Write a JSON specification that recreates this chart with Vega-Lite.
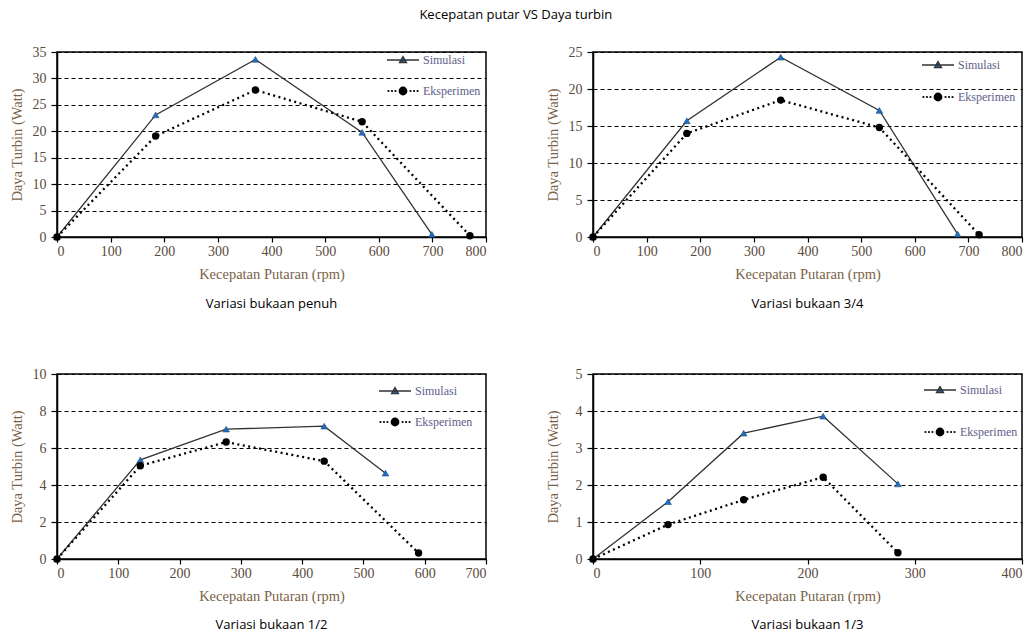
{
  "$schema": "https://vega.github.io/schema/vega-lite/v6.json",
  "padding": {"left": 8, "top": 9, "right": 5, "bottom": 5},
  "background": "white",
  "title": {"text": "Kecepatan putar VS Daya turbin", "anchor": "middle", "offset": 22, "font": "Open Sans", "fontSize": 13, "fontWeight": "normal", "color": "#000000"},
  "config": {
    "view": {"stroke": "#000000", "strokeWidth": 1.5},
    "title": {"font": "Open Sans", "fontSize": 13, "fontWeight": "normal", "color": "#000000"},
    "axis": {"labelFont": "Liberation Serif", "labelFontSize": 14, "labelColor": "#5a4a3c", "titleFont": "Liberation Serif", "titleFontSize": 14.5, "titleFontWeight": "normal", "titleColor": "#7a6248", "domainColor": "#000000", "domainWidth": 1.5, "tickColor": "#000000", "tickWidth": 1.2, "grid": false},
    "axisX": {"tickSize": 5, "labelPadding": 2, "titlePadding": 9},
    "axisY": {"grid": true, "gridColor": "#000000", "gridDash": [4, 3], "gridWidth": 1, "tickSize": 6, "labelPadding": 5, "titleX": -33},
    "legend": {"padding": 0, "labelFont": "Liberation Serif", "labelFontSize": 12, "labelColor": "#60608a", "labelOffset": 14, "symbolSize": 100, "symbolOpacity": 1, "symbolStrokeWidth": 1.3, "title": null}
  },
  "datasets": {
    "penuh": [
      {"rpm": 0, "daya": 0, "seri": "Simulasi"},
      {"rpm": 184, "daya": 23.1, "seri": "Simulasi"},
      {"rpm": 370, "daya": 33.6, "seri": "Simulasi"},
      {"rpm": 569, "daya": 19.8, "seri": "Simulasi"},
      {"rpm": 699, "daya": 0.5, "seri": "Simulasi"},
      {"rpm": 0, "daya": 0, "seri": "Eksperimen"},
      {"rpm": 184, "daya": 19.1, "seri": "Eksperimen"},
      {"rpm": 370, "daya": 27.8, "seri": "Eksperimen"},
      {"rpm": 569, "daya": 21.8, "seri": "Eksperimen"},
      {"rpm": 770, "daya": 0.25, "seri": "Eksperimen"}
    ],
    "tigaperempat": [
      {"rpm": 0, "daya": 0, "seri": "Simulasi"},
      {"rpm": 175, "daya": 15.7, "seri": "Simulasi"},
      {"rpm": 350, "daya": 24.3, "seri": "Simulasi"},
      {"rpm": 534, "daya": 17.1, "seri": "Simulasi"},
      {"rpm": 680, "daya": 0.4, "seri": "Simulasi"},
      {"rpm": 0, "daya": 0, "seri": "Eksperimen"},
      {"rpm": 175, "daya": 14.0, "seri": "Eksperimen"},
      {"rpm": 350, "daya": 18.5, "seri": "Eksperimen"},
      {"rpm": 534, "daya": 14.8, "seri": "Eksperimen"},
      {"rpm": 720, "daya": 0.3, "seri": "Eksperimen"}
    ],
    "setengah": [
      {"rpm": 0, "daya": 0, "seri": "Simulasi"},
      {"rpm": 136, "daya": 5.36, "seri": "Simulasi"},
      {"rpm": 276, "daya": 7.02, "seri": "Simulasi"},
      {"rpm": 436, "daya": 7.18, "seri": "Simulasi"},
      {"rpm": 536, "daya": 4.64, "seri": "Simulasi"},
      {"rpm": 0, "daya": 0, "seri": "Eksperimen"},
      {"rpm": 136, "daya": 5.04, "seri": "Eksperimen"},
      {"rpm": 276, "daya": 6.32, "seri": "Eksperimen"},
      {"rpm": 436, "daya": 5.29, "seri": "Eksperimen"},
      {"rpm": 590, "daya": 0.32, "seri": "Eksperimen"}
    ],
    "sepertiga": [
      {"rpm": 0, "daya": 0, "seri": "Simulasi"},
      {"rpm": 70, "daya": 1.55, "seri": "Simulasi"},
      {"rpm": 140.5, "daya": 3.4, "seri": "Simulasi"},
      {"rpm": 214.6, "daya": 3.86, "seri": "Simulasi"},
      {"rpm": 284.3, "daya": 2.03, "seri": "Simulasi"},
      {"rpm": 0, "daya": 0, "seri": "Eksperimen"},
      {"rpm": 70, "daya": 0.93, "seri": "Eksperimen"},
      {"rpm": 140.5, "daya": 1.6, "seri": "Eksperimen"},
      {"rpm": 214.6, "daya": 2.21, "seri": "Eksperimen"},
      {"rpm": 284.3, "daya": 0.17, "seri": "Eksperimen"}
    ]
  },
  "columns": 2,
  "spacing": {"row": 137, "column": 107},
  "bounds": "flush",
  "resolve": {"scale": {"shape": "independent", "color": "independent", "stroke": "independent", "x": "independent", "y": "independent"}, "legend": {"shape": "independent", "color": "independent", "stroke": "independent"}},
  "concat": [
    {
      "data": {"name": "penuh"},
      "width": 429, "height": 185,
      "title": {"text": "Variasi bukaan penuh", "orient": "bottom", "anchor": "middle", "frame": "group", "offset": 17},
      "encoding": {
        "x": {"field": "rpm", "type": "quantitative", "scale": {"domain": [0, 800], "nice": false}, "axis": {"values": [0, 100, 200, 300, 400, 500, 600, 700, 800], "title": "Kecepatan Putaran (rpm)"}},
        "y": {"field": "daya", "type": "quantitative", "scale": {"domain": [0, 35], "nice": false}, "axis": {"values": [0, 5, 10, 15, 20, 25, 30, 35], "title": "Daya Turbin (Watt)"}}
      },
      "layer": [
        {"transform": [{"filter": "datum.seri === 'Simulasi'"}], "mark": {"type": "line", "stroke": "#333333", "strokeWidth": 1.3}},
        {"transform": [{"filter": "datum.seri === 'Eksperimen'"}], "mark": {"type": "line", "stroke": "#000000", "strokeWidth": 2.3, "strokeDash": [2, 3.5]}},
        {"transform": [{"filter": "datum.seri === 'Simulasi'"}], "mark": {"type": "point", "shape": "triangle-up", "filled": true, "size": 45, "opacity": 1, "fill": "#1f6fc0", "stroke": "#1a3f6a", "strokeWidth": 0.5}},
        {"transform": [{"filter": "datum.seri === 'Eksperimen'"}], "mark": {"type": "point", "shape": "circle", "filled": true, "size": 55, "opacity": 1, "fill": "#000000"}},
        {"mark": {"type": "point", "filled": true, "size": 10, "opacity": 0, "strokeWidth": 1.3},
         "encoding": {
           "color": {"field": "seri", "type": "nominal", "scale": {"domain": ["Simulasi", "Eksperimen"], "range": ["#1f6fc0", "#000000"]},
             "legend": {"orient": "none", "legendX": 340, "legendY": 2, "rowPadding": 18}},
           "stroke": {"field": "seri", "type": "nominal", "scale": {"domain": ["Simulasi", "Eksperimen"], "range": ["#333333", "#000000"]},
             "legend": {"orient": "none", "legendX": 340, "legendY": 2, "rowPadding": 18}},
           "shape": {"field": "seri", "type": "nominal", "scale": {"domain": ["Simulasi", "Eksperimen"], "range": ["M-3.2,0L3.2,0M0,-0.7L0.7,0.5L-0.7,0.5Z", "M-2.82,0A0.09,0.09,0,1,1,-3.0,0A0.09,0.09,0,1,1,-2.82,0ZM-2.12,0A0.09,0.09,0,1,1,-2.3,0A0.09,0.09,0,1,1,-2.12,0ZM-1.42,0A0.09,0.09,0,1,1,-1.6,0A0.09,0.09,0,1,1,-1.42,0ZM1.6,0A0.09,0.09,0,1,1,1.42,0A0.09,0.09,0,1,1,1.6,0ZM2.3,0A0.09,0.09,0,1,1,2.12,0A0.09,0.09,0,1,1,2.3,0ZM3.0,0A0.09,0.09,0,1,1,2.82,0A0.09,0.09,0,1,1,3.0,0ZM0.75,0A0.75,0.75,0,1,1,-0.75,0A0.75,0.75,0,1,1,0.75,0Z"]},
             "legend": {"orient": "none", "legendX": 340, "legendY": 2, "rowPadding": 18}}
         }}
      ]
    },
    {
      "data": {"name": "tigaperempat"},
      "width": 429, "height": 185,
      "title": {"text": "Variasi bukaan 3/4", "orient": "bottom", "anchor": "middle", "frame": "group", "offset": 17},
      "encoding": {
        "x": {"field": "rpm", "type": "quantitative", "scale": {"domain": [0, 800], "nice": false}, "axis": {"values": [0, 100, 200, 300, 400, 500, 600, 700, 800], "title": "Kecepatan Putaran (rpm)"}},
        "y": {"field": "daya", "type": "quantitative", "scale": {"domain": [0, 25], "nice": false}, "axis": {"values": [0, 5, 10, 15, 20, 25], "title": "Daya Turbin (Watt)"}}
      },
      "layer": [
        {"transform": [{"filter": "datum.seri === 'Simulasi'"}], "mark": {"type": "line", "stroke": "#333333", "strokeWidth": 1.3}},
        {"transform": [{"filter": "datum.seri === 'Eksperimen'"}], "mark": {"type": "line", "stroke": "#000000", "strokeWidth": 2.3, "strokeDash": [2, 3.5]}},
        {"transform": [{"filter": "datum.seri === 'Simulasi'"}], "mark": {"type": "point", "shape": "triangle-up", "filled": true, "size": 45, "opacity": 1, "fill": "#1f6fc0", "stroke": "#1a3f6a", "strokeWidth": 0.5}},
        {"transform": [{"filter": "datum.seri === 'Eksperimen'"}], "mark": {"type": "point", "shape": "circle", "filled": true, "size": 55, "opacity": 1, "fill": "#000000"}},
        {"mark": {"type": "point", "filled": true, "size": 10, "opacity": 0, "strokeWidth": 1.3},
         "encoding": {
           "color": {"field": "seri", "type": "nominal", "scale": {"domain": ["Simulasi", "Eksperimen"], "range": ["#1f6fc0", "#000000"]},
             "legend": {"orient": "none", "legendX": 339, "legendY": 7, "rowPadding": 19}},
           "stroke": {"field": "seri", "type": "nominal", "scale": {"domain": ["Simulasi", "Eksperimen"], "range": ["#333333", "#000000"]},
             "legend": {"orient": "none", "legendX": 339, "legendY": 7, "rowPadding": 19}},
           "shape": {"field": "seri", "type": "nominal", "scale": {"domain": ["Simulasi", "Eksperimen"], "range": ["M-3.2,0L3.2,0M0,-0.7L0.7,0.5L-0.7,0.5Z", "M-2.82,0A0.09,0.09,0,1,1,-3.0,0A0.09,0.09,0,1,1,-2.82,0ZM-2.12,0A0.09,0.09,0,1,1,-2.3,0A0.09,0.09,0,1,1,-2.12,0ZM-1.42,0A0.09,0.09,0,1,1,-1.6,0A0.09,0.09,0,1,1,-1.42,0ZM1.6,0A0.09,0.09,0,1,1,1.42,0A0.09,0.09,0,1,1,1.6,0ZM2.3,0A0.09,0.09,0,1,1,2.12,0A0.09,0.09,0,1,1,2.3,0ZM3.0,0A0.09,0.09,0,1,1,2.82,0A0.09,0.09,0,1,1,3.0,0ZM0.75,0A0.75,0.75,0,1,1,-0.75,0A0.75,0.75,0,1,1,0.75,0Z"]},
             "legend": {"orient": "none", "legendX": 339, "legendY": 7, "rowPadding": 19}}
         }}
      ]
    },
    {
      "data": {"name": "setengah"},
      "width": 429, "height": 185,
      "title": {"text": "Variasi bukaan 1/2", "orient": "bottom", "anchor": "middle", "frame": "group", "offset": 16},
      "encoding": {
        "x": {"field": "rpm", "type": "quantitative", "scale": {"domain": [0, 700], "nice": false}, "axis": {"values": [0, 100, 200, 300, 400, 500, 600, 700], "title": "Kecepatan Putaran (rpm)"}},
        "y": {"field": "daya", "type": "quantitative", "scale": {"domain": [0, 10], "nice": false}, "axis": {"values": [0, 2, 4, 6, 8, 10], "title": "Daya Turbin (Watt)"}}
      },
      "layer": [
        {"transform": [{"filter": "datum.seri === 'Simulasi'"}], "mark": {"type": "line", "stroke": "#333333", "strokeWidth": 1.3}},
        {"transform": [{"filter": "datum.seri === 'Eksperimen'"}], "mark": {"type": "line", "stroke": "#000000", "strokeWidth": 2.3, "strokeDash": [2, 3.5]}},
        {"transform": [{"filter": "datum.seri === 'Simulasi'"}], "mark": {"type": "point", "shape": "triangle-up", "filled": true, "size": 45, "opacity": 1, "fill": "#1f6fc0", "stroke": "#1a3f6a", "strokeWidth": 0.5}},
        {"transform": [{"filter": "datum.seri === 'Eksperimen'"}], "mark": {"type": "point", "shape": "circle", "filled": true, "size": 55, "opacity": 1, "fill": "#000000"}},
        {"mark": {"type": "point", "filled": true, "size": 10, "opacity": 0, "strokeWidth": 1.3},
         "encoding": {
           "color": {"field": "seri", "type": "nominal", "scale": {"domain": ["Simulasi", "Eksperimen"], "range": ["#1f6fc0", "#000000"]},
             "legend": {"orient": "none", "legendX": 332, "legendY": 11, "rowPadding": 18}},
           "stroke": {"field": "seri", "type": "nominal", "scale": {"domain": ["Simulasi", "Eksperimen"], "range": ["#333333", "#000000"]},
             "legend": {"orient": "none", "legendX": 332, "legendY": 11, "rowPadding": 18}},
           "shape": {"field": "seri", "type": "nominal", "scale": {"domain": ["Simulasi", "Eksperimen"], "range": ["M-3.2,0L3.2,0M0,-0.7L0.7,0.5L-0.7,0.5Z", "M-2.82,0A0.09,0.09,0,1,1,-3.0,0A0.09,0.09,0,1,1,-2.82,0ZM-2.12,0A0.09,0.09,0,1,1,-2.3,0A0.09,0.09,0,1,1,-2.12,0ZM-1.42,0A0.09,0.09,0,1,1,-1.6,0A0.09,0.09,0,1,1,-1.42,0ZM1.6,0A0.09,0.09,0,1,1,1.42,0A0.09,0.09,0,1,1,1.6,0ZM2.3,0A0.09,0.09,0,1,1,2.12,0A0.09,0.09,0,1,1,2.3,0ZM3.0,0A0.09,0.09,0,1,1,2.82,0A0.09,0.09,0,1,1,3.0,0ZM0.75,0A0.75,0.75,0,1,1,-0.75,0A0.75,0.75,0,1,1,0.75,0Z"]},
             "legend": {"orient": "none", "legendX": 332, "legendY": 11, "rowPadding": 18}}
         }}
      ]
    },
    {
      "data": {"name": "sepertiga"},
      "width": 429, "height": 185,
      "title": {"text": "Variasi bukaan 1/3", "orient": "bottom", "anchor": "middle", "frame": "group", "offset": 16},
      "encoding": {
        "x": {"field": "rpm", "type": "quantitative", "scale": {"domain": [0, 400], "nice": false}, "axis": {"values": [0, 100, 200, 300, 400], "title": "Kecepatan Putaran (rpm)"}},
        "y": {"field": "daya", "type": "quantitative", "scale": {"domain": [0, 5], "nice": false}, "axis": {"values": [0, 1, 2, 3, 4, 5], "title": "Daya Turbin (Watt)"}}
      },
      "layer": [
        {"transform": [{"filter": "datum.seri === 'Simulasi'"}], "mark": {"type": "line", "stroke": "#333333", "strokeWidth": 1.3}},
        {"transform": [{"filter": "datum.seri === 'Eksperimen'"}], "mark": {"type": "line", "stroke": "#000000", "strokeWidth": 2.3, "strokeDash": [2, 3.5]}},
        {"transform": [{"filter": "datum.seri === 'Simulasi'"}], "mark": {"type": "point", "shape": "triangle-up", "filled": true, "size": 45, "opacity": 1, "fill": "#1f6fc0", "stroke": "#1a3f6a", "strokeWidth": 0.5}},
        {"transform": [{"filter": "datum.seri === 'Eksperimen'"}], "mark": {"type": "point", "shape": "circle", "filled": true, "size": 55, "opacity": 1, "fill": "#000000"}},
        {"mark": {"type": "point", "filled": true, "size": 10, "opacity": 0, "strokeWidth": 1.3},
         "encoding": {
           "color": {"field": "seri", "type": "nominal", "scale": {"domain": ["Simulasi", "Eksperimen"], "range": ["#1f6fc0", "#000000"]},
             "legend": {"orient": "none", "legendX": 341, "legendY": 10, "rowPadding": 29}},
           "stroke": {"field": "seri", "type": "nominal", "scale": {"domain": ["Simulasi", "Eksperimen"], "range": ["#333333", "#000000"]},
             "legend": {"orient": "none", "legendX": 341, "legendY": 10, "rowPadding": 29}},
           "shape": {"field": "seri", "type": "nominal", "scale": {"domain": ["Simulasi", "Eksperimen"], "range": ["M-3.2,0L3.2,0M0,-0.7L0.7,0.5L-0.7,0.5Z", "M-2.82,0A0.09,0.09,0,1,1,-3.0,0A0.09,0.09,0,1,1,-2.82,0ZM-2.12,0A0.09,0.09,0,1,1,-2.3,0A0.09,0.09,0,1,1,-2.12,0ZM-1.42,0A0.09,0.09,0,1,1,-1.6,0A0.09,0.09,0,1,1,-1.42,0ZM1.6,0A0.09,0.09,0,1,1,1.42,0A0.09,0.09,0,1,1,1.6,0ZM2.3,0A0.09,0.09,0,1,1,2.12,0A0.09,0.09,0,1,1,2.3,0ZM3.0,0A0.09,0.09,0,1,1,2.82,0A0.09,0.09,0,1,1,3.0,0ZM0.75,0A0.75,0.75,0,1,1,-0.75,0A0.75,0.75,0,1,1,0.75,0Z"]},
             "legend": {"orient": "none", "legendX": 341, "legendY": 10, "rowPadding": 29}}
         }}
      ]
    }
  ]
}
